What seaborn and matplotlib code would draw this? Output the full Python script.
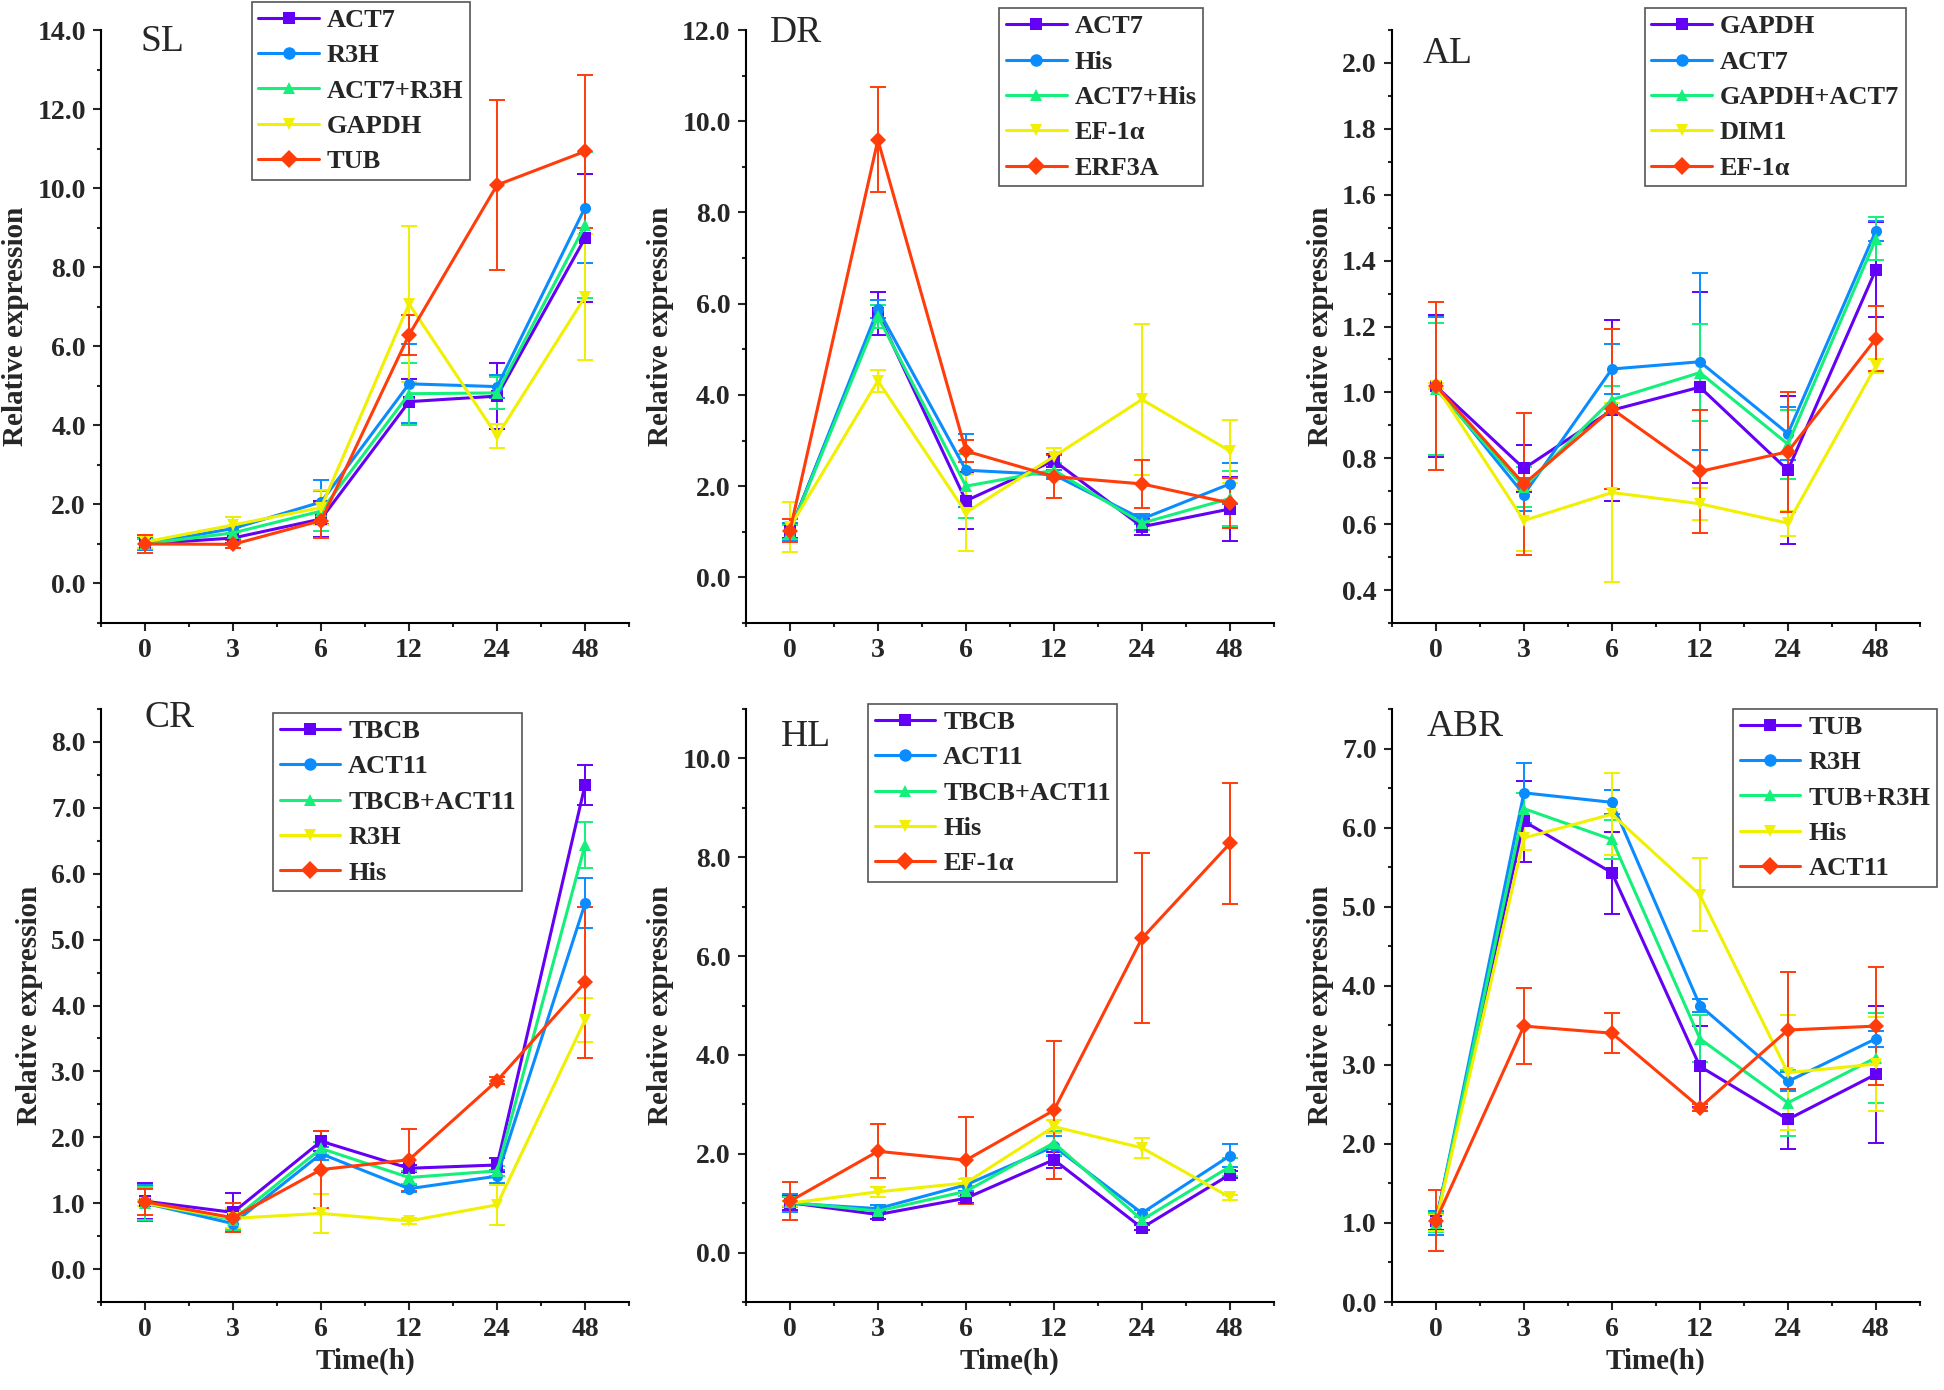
import numpy as np
import pandas as pd
import matplotlib
matplotlib.use('Agg')
import matplotlib.pyplot as plt
import seaborn as sns
from matplotlib.ticker import MultipleLocator, FormatStrFormatter

# time points (categorical x axis)
TIMES = ['0', '3', '6', '12', '24', '48']

# SL
SL_GENES = ['ACT7', 'R3H', 'ACT7+R3H', 'GAPDH', 'TUB']
SL_MEAN = [[1.0, 1.15, 1.63, 4.60, 4.74, 8.74],
           [1.0, 1.39, 2.06, 5.05, 4.98, 9.51],
           [1.0, 1.28, 1.83, 4.80, 4.82, 9.06],
           [1.05, 1.48, 1.92, 7.07, 3.73, 7.25],
           [1.0, 0.99, 1.59, 6.29, 10.08, 10.93]]
SL_ERR = [[0.15, 0.12, 0.45, 0.58, 0.83, 1.62],
          [0.15, 0.28, 0.55, 1.0, 0.3, 1.4],
          [0.12, 0.15, 0.5, 0.78, 0.4, 1.85],
          [0.15, 0.2, 0.45, 1.98, 0.3, 1.6],
          [0.22, 0.1, 0.45, 0.5, 2.14, 1.93]]

# DR
DR_GENES = ['ACT7', 'His', 'ACT7+His', 'EF-1α', 'ERF3A']
DR_MEAN = [[1.02, 5.79, 1.68, 2.56, 1.11, 1.50],
           [1.0, 5.88, 2.35, 2.25, 1.28, 2.05],
           [1.0, 5.72, 2.0, 2.35, 1.19, 1.73],
           [1.1, 4.31, 1.42, 2.65, 3.9, 2.77],
           [1.02, 9.59, 2.77, 2.21, 2.05, 1.63]]
DR_ERR = [[0.15, 0.47, 0.63, 0.15, 0.18, 0.7],
          [0.2, 0.2, 0.8, 0.1, 0.12, 0.45],
          [0.15, 0.25, 0.7, 0.15, 0.15, 0.6],
          [0.55, 0.24, 0.85, 0.18, 1.65, 0.69],
          [0.25, 1.15, 0.25, 0.48, 0.52, 0.55]]

# AL
AL_GENES = ['GAPDH', 'ACT7', 'GAPDH+ACT7', 'DIM1', 'EF-1α']
AL_MEAN = [[1.019, 0.769, 0.946, 1.016, 0.764, 1.373],
           [1.02, 0.69, 1.071, 1.093, 0.875, 1.491],
           [1.01, 0.713, 0.978, 1.06, 0.843, 1.466],
           [1.02, 0.611, 0.696, 0.662, 0.603, 1.08],
           [1.02, 0.722, 0.95, 0.76, 0.82, 1.163]]
AL_ERR = [[0.215, 0.07, 0.275, 0.29, 0.225, 0.145],
          [0.21, 0.05, 0.075, 0.268, 0.08, 0.03],
          [0.2, 0.06, 0.04, 0.147, 0.105, 0.065],
          [0.01, 0.092, 0.272, 0.048, 0.038, 0.022],
          [0.255, 0.216, 0.243, 0.188, 0.182, 0.098]]

# CR
CR_GENES = ['TBCB', 'ACT11', 'TBCB+ACT11', 'R3H', 'His']
CR_MEAN = [[1.03, 0.86, 1.94, 1.53, 1.58, 7.35],
           [1.0, 0.69, 1.75, 1.22, 1.41, 5.55],
           [1.0, 0.75, 1.83, 1.39, 1.49, 6.44],
           [1.0, 0.77, 0.845, 0.73, 0.975, 3.78],
           [1.02, 0.78, 1.51, 1.66, 2.86, 4.35]]
CR_ERR = [[0.27, 0.29, 0.15, 0.05, 0.1, 0.3],
          [0.27, 0.1, 0.1, 0.05, 0.1, 0.38],
          [0.25, 0.15, 0.1, 0.1, 0.07, 0.35],
          [0.05, 0.15, 0.3, 0.04, 0.3, 0.34],
          [0.2, 0.22, 0.58, 0.47, 0.05, 1.15]]

# HL
HL_GENES = ['TBCB', 'ACT11', 'TBCB+ACT11', 'His', 'EF-1α']
HL_MEAN = [[1.01, 0.77, 1.1, 1.88, 0.5, 1.58],
           [1.0, 0.89, 1.37, 2.15, 0.8, 1.96],
           [1.02, 0.84, 1.24, 2.22, 0.66, 1.74],
           [1.0, 1.23, 1.41, 2.55, 2.12, 1.12],
           [1.04, 2.05, 1.87, 2.88, 6.36, 8.28]]
HL_ERR = [[0.15, 0.08, 0.1, 0.16, 0.05, 0.08],
          [0.18, 0.08, 0.12, 0.2, 0.07, 0.23],
          [0.1, 0.05, 0.1, 0.25, 0.06, 0.18],
          [0.05, 0.1, 0.08, 0.13, 0.2, 0.05],
          [0.39, 0.55, 0.88, 1.4, 1.72, 1.23]]

# ABR
ABR_GENES = ['TUB', 'R3H', 'TUB+R3H', 'His', 'ACT11']
ABR_MEAN = [[1.03, 6.08, 5.43, 2.98, 2.31, 2.88],
            [1.0, 6.44, 6.32, 3.75, 2.79, 3.33],
            [1.0, 6.24, 5.85, 3.33, 2.52, 3.09],
            [1.0, 5.87, 6.17, 5.15, 2.9, 3.01],
            [1.03, 3.49, 3.4, 2.46, 3.44, 3.49]]
ABR_ERR = [[0.12, 0.51, 0.52, 0.51, 0.38, 0.87],
           [0.15, 0.38, 0.15, 0.08, 0.12, 0.1],
           [0.12, 0.2, 0.25, 0.3, 0.42, 0.57],
           [0.1, 0.15, 0.52, 0.46, 0.73, 0.6],
           [0.39, 0.48, 0.25, 0.05, 0.74, 0.75]]

COLORS = ['#6400F5', '#0A8CFF', '#14F07A', '#F0F000', '#FF3C0A']
MARKERS = ['s', 'o', '^', 'v', 'D']

sns.set_style('ticks')
plt.rcParams['font.family'] = ['Liberation Serif', 'DejaVu Serif']
plt.rcParams['font.weight'] = 'bold'
plt.rcParams['axes.labelweight'] = 'bold'

# name, genes, mean, err, ylim, major, minor, axes rect, legend anchor, label pos
panels = [
    ('SL', SL_GENES, SL_MEAN, SL_ERR, (-1, 14), 2, 1, (0.052, 0.5518), (0.1295, 0.9986), (0.074, 0.965)),
    ('DR', DR_GENES, DR_MEAN, DR_ERR, (-1, 12), 2, 1, (0.3837, 0.5518), (0.514, 0.994), (0.045, 0.98)),
    ('AL', AL_GENES, AL_MEAN, AL_ERR, (0.3, 2.1), 0.2, 0.1, (0.716, 0.5518), (0.846, 0.994), (0.059, 0.945)),
    ('CR', CR_GENES, CR_MEAN, CR_ERR, (-0.5, 8.5), 1, 0.5, (0.052, 0.0633), (0.1404, 0.487), (0.083, 0.97)),
    ('HL', HL_GENES, HL_MEAN, HL_ERR, (-1, 11), 2, 1, (0.3837, 0.0633), (0.4465, 0.4935), (0.066, 0.938)),
    ('ABR', ABR_GENES, ABR_MEAN, ABR_ERR, (0, 7.5), 1, 0.5, (0.716, 0.0633), (0.8915, 0.49), (0.066, 0.955)),
]

fig = plt.figure(figsize=(19.44, 13.90), dpi=100)
x = np.arange(len(TIMES))

for k, (name, genes, mean, err, ylim, major, minor, rect, leg_pos, lab_pos) in enumerate(panels):
    ax = fig.add_axes([rect[0], rect[1], 0.2716, 0.4266])

    rows = []
    for g, vals in zip(genes, mean):
        for xi, v in zip(x, vals):
            rows.append({'gene': g, 'pos': xi, 'val': v})
    df = pd.DataFrame(rows)

    # error bars under the lines
    for i, g in enumerate(genes):
        ax.errorbar(x, mean[i], yerr=err[i], fmt='none', ecolor=COLORS[i],
                    elinewidth=1.4, capsize=6, capthick=1.4, zorder=1.5)

    sns.lineplot(data=df, x='pos', y='val', hue='gene', style='gene',
                 hue_order=genes, style_order=genes, palette=COLORS,
                 markers=dict(zip(genes, MARKERS)), dashes=False,
                 markersize=8, markeredgewidth=0, linewidth=2.2, ax=ax)

    handles, labels = ax.get_legend_handles_labels()
    for h in handles:
        h.set_markersize(9)
        h.set_linewidth(2.2)
        h.set_markeredgewidth(0)
    leg = ax.legend(handles, labels, loc='upper left', bbox_to_anchor=leg_pos,
                    bbox_transform=fig.transFigure, frameon=True, fancybox=False,
                    edgecolor='#555555', framealpha=1, fontsize=19,
                    handlelength=2.3, handletextpad=0.3, labelspacing=0.45,
                    borderpad=0.25, borderaxespad=0)
    leg.get_frame().set_linewidth(1.2)

    ax.set_xlim(-0.5, 5.5)
    ax.set_xticks(x)
    ax.set_xticklabels(TIMES)
    ax.xaxis.set_minor_locator(MultipleLocator(0.5))
    ax.set_ylim(*ylim)
    ax.yaxis.set_major_locator(MultipleLocator(major))
    ax.yaxis.set_minor_locator(MultipleLocator(minor))
    ax.yaxis.set_major_formatter(FormatStrFormatter('%.1f'))

    sns.despine(ax=ax)
    for s in ['left', 'bottom']:
        ax.spines[s].set_linewidth(1.5)
        ax.spines[s].set_color('black')
    ax.tick_params(which='major', direction='out', length=6, width=1.5,
                   labelsize=20, pad=5)
    ax.tick_params(which='minor', direction='out', length=3, width=1.5)

    ax.set_ylabel('Relative expression', fontsize=21, fontweight='bold', labelpad=6)
    if k >= 3:
        ax.set_xlabel('Time(h)', fontsize=21, fontweight='bold', labelpad=4)
    else:
        ax.set_xlabel('')

    ax.text(lab_pos[0], lab_pos[1], name, transform=ax.transAxes, fontsize=27,
            fontweight='normal', va='baseline', ha='left')

fig.savefig('out.png', dpi=100)
